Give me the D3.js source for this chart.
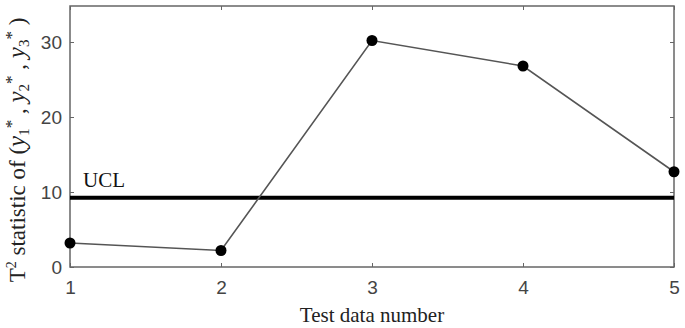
<!DOCTYPE html>
<html>
<head>
<meta charset="utf-8">
<script src="https://cdn.jsdelivr.net/npm/d3@7"></script>
<style>
  body { margin: 0; background: #fff; }
  svg { display: block; }
</style>
</head>
<body>
<main></main>
<script>
// values
const testNumbers = [1, 2, 3, 4, 5];
const t2Values = [3.2, 2.2, 30.2, 26.8, 12.7];
const uclValue = 9.25;
const xTicks = [1, 2, 3, 4, 5];
const yTicks = [0, 10, 20, 30];

let drawChart = (width=685, height=328) => {
	const w = width;
	const h = height;
	const margin = ({top: 6, right: 11, bottom: 61, left: 70});

	let xScale = d3.scaleLinear()
		.domain([1, 5])
		.range([margin.left, w - margin.right]);

	let yScale = d3.scaleLinear()
		.domain([0, 34.8])
		.range([h - margin.bottom, margin.top]);

	let svg = d3.select("main")
		.append("svg")
		.attr("width", w)
		.attr("height", h);

	const axisColor = "#666";
	const labelColor = "#444";

	let xAxis = g => { g
		.attr("transform", `translate(0,${h - margin.bottom})`)
		.call(d3.axisBottom(xScale).tickValues(xTicks).tickFormat(d3.format("d")).tickSizeInner(-4).tickSizeOuter(0).tickPadding(14))
		.call(g => g.select(".domain").remove())
		.call(g => g.selectAll(".tick line").attr("stroke", axisColor))
		.call(g => g.selectAll(".tick text")
			.attr("fill", labelColor)
			.attr("font-family", "'Liberation Sans', Arial, sans-serif")
			.attr("font-size", 19))
	};

	let yAxis = g => { g
		.attr("transform", `translate(${margin.left},0)`)
		.call(d3.axisLeft(yScale).tickValues(yTicks).tickSizeInner(-4).tickSizeOuter(0).tickPadding(8))
		.call(g => g.select(".domain").remove())
		.call(g => g.selectAll(".tick line").attr("stroke", axisColor))
		.call(g => g.selectAll(".tick text")
			.attr("fill", labelColor)
			.attr("font-family", "'Liberation Sans', Arial, sans-serif")
			.attr("font-size", 19))
	};

	// right side ticks (mirror)
	let yAxisRight = g => { g
		.attr("transform", `translate(${w - margin.right},0)`)
		.call(d3.axisRight(yScale).tickValues(yTicks).tickSizeInner(-4).tickSizeOuter(0).tickFormat(""))
		.call(g => g.select(".domain").remove())
		.call(g => g.selectAll(".tick line").attr("stroke", axisColor))
	};

	let xAxisTop = g => { g
		.attr("transform", `translate(0,${margin.top})`)
		.call(d3.axisTop(xScale).tickValues(xTicks).tickSizeInner(-4).tickSizeOuter(0).tickFormat(""))
		.call(g => g.select(".domain").remove())
		.call(g => g.selectAll(".tick line").attr("stroke", axisColor))
	};

	svg.append("g").call(xAxis);
	svg.append("g").call(yAxis);
	svg.append("g").call(yAxisRight);
	svg.append("g").call(xAxisTop);

	// box
	svg.append("rect")
		.attr("x", margin.left)
		.attr("y", margin.top)
		.attr("width", w - margin.left - margin.right)
		.attr("height", h - margin.top - margin.bottom)
		.attr("fill", "none")
		.attr("stroke", axisColor)
		.attr("stroke-width", 1.5);

	// UCL line
	svg.append("line")
		.attr("x1", xScale(1))
		.attr("x2", xScale(5))
		.attr("y1", yScale(uclValue))
		.attr("y2", yScale(uclValue))
		.attr("stroke", "#000")
		.attr("stroke-width", 4);

	svg.append("text")
		.attr("x", xScale(1) + 13)
		.attr("y", yScale(uclValue) - 11)
		.attr("font-family", "'Liberation Serif', 'Times New Roman', serif")
		.attr("font-size", 21)
		.attr("fill", "#111")
		.text("UCL");

	let data = testNumbers.map((n, i) => ({n, v: t2Values[i]}));

	let line = d3.line()
		.x(d => xScale(d.n))
		.y(d => yScale(d.v));

	svg.append("path")
		.datum(data)
		.attr("d", line)
		.attr("fill", "none")
		.attr("stroke", "#555")
		.attr("stroke-width", 1.6);

	svg.append("g")
		.selectAll("circle")
		.data(data)
		.join("circle")
		.attr("cx", d => xScale(d.n))
		.attr("cy", d => yScale(d.v))
		.attr("r", 5.5)
		.attr("fill", "#000");

	// x label
	svg.append("text")
		.attr("x", (xScale(1) + xScale(5)) / 2)
		.attr("y", h - 6)
		.attr("text-anchor", "middle")
		.attr("font-family", "'Liberation Serif', 'Times New Roman', serif")
		.attr("font-size", 21)
		.attr("fill", "#222")
		.text("Test data number");

	// y label
	let yLabel = svg.append("text")
		.attr("transform", `translate(25,150) rotate(-90)`)
		.attr("text-anchor", "middle")
		.attr("font-family", "'Liberation Serif', 'Times New Roman', serif")
		.attr("font-size", 23)
		.attr("fill", "#222");

	yLabel.append("tspan").text("T");
	yLabel.append("tspan").attr("font-size", 14).attr("dy", -9).text("2");
	yLabel.append("tspan").attr("dy", 9).text(" statistic of (");
	[1, 2, 3].forEach((k, i) => {
		yLabel.append("tspan").attr("font-style", "italic").attr("font-size", 25).text("y");
		yLabel.append("tspan").attr("font-size", 15).attr("dy", 4).text(k);
		yLabel.append("tspan").attr("font-size", 17).attr("dy", -12).text("*");
		yLabel.append("tspan").attr("dy", 8).text(i < 2 ? " , " : " )");
	});
};

drawChart();
</script>
</body>
</html>
